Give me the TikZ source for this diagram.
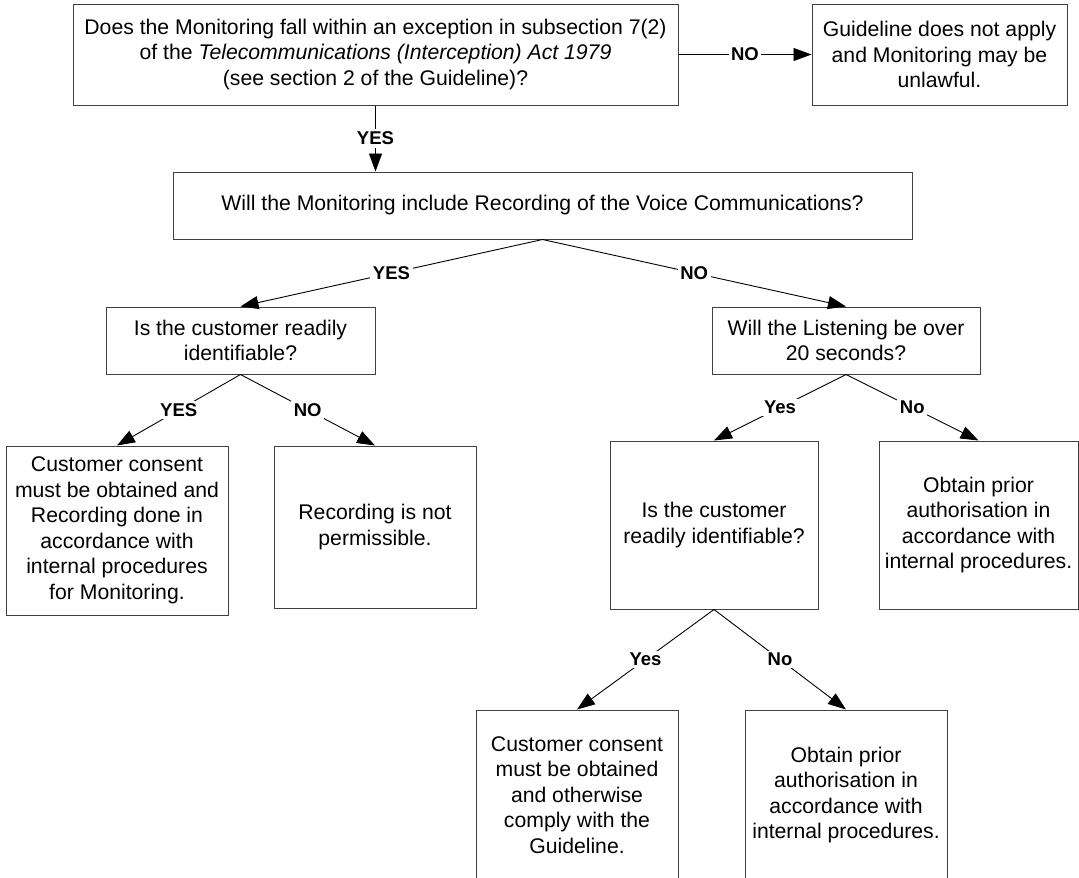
\documentclass[tikz,border=0pt]{standalone}
\usepackage{fontspec}
\setmainfont{Liberation Sans}
\usetikzlibrary{arrows.meta}
\begin{document}
\begin{tikzpicture}[x=1pt,y=-1pt,
  box/.style={draw=black!75, line width=1pt, align=center, inner sep=0pt,
    font=\fontsize{21.2}{25.5}\selectfont},
  conn/.style={draw=black, line width=0.9pt, -{Triangle[length=18pt,width=13pt]}},
  lbl/.style={fill=white, inner sep=2.5pt, font=\fontsize{18.5}{20}\selectfont\bfseries}]
\useasboundingbox (0,0) rectangle (1079,878);
\clip (0,0) rectangle (1079,878);

\node[box, minimum width=605pt, minimum height=101pt] (q1) at (375.5,54.5)
  {Does the Monitoring fall within an exception in subsection 7(2)\\
   of the \textit{Telecommunications (Interception) Act 1979}\\
   (see section 2 of the Guideline)?};
\node[box, minimum width=255pt, minimum height=101pt] (g) at (939.5,54.5)
  {Guideline does not apply\\ and Monitoring may be\\ unlawful.};
\node[box, minimum width=739pt, minimum height=67pt] (q2) at (542.5,205.5)
  {Will the Monitoring include Recording of the Voice Communications?};
\node[box, minimum width=269pt, minimum height=67pt] (q3) at (240.5,340.5)
  {Is the customer readily\\ identifiable?};
\node[box, minimum width=268pt, minimum height=67pt] (q4) at (846,340.5)
  {Will the Listening be over\\ 20 seconds?};
\node[box, minimum width=222pt, minimum height=169pt] (r1) at (117,530.5)
  {Customer consent\\ must be obtained and\\ Recording done in\\ accordance with\\ internal procedures\\ for Monitoring.};
\node[box, minimum width=202pt, minimum height=162pt] (r2) at (375,527)
  {Recording is not\\ permissible.};
\node[box, minimum width=208pt, minimum height=168pt] (q5) at (714,525)
  {Is the customer\\ readily identifiable?};
\node[box, minimum width=199pt, minimum height=168pt] (r3) at (978.5,525)
  {Obtain prior\\ authorisation in\\ accordance with\\ internal procedures.};
\node[box, minimum width=202pt, minimum height=170pt] (r4) at (577,795)
  {Customer consent\\ must be obtained\\ and otherwise\\ comply with the\\ Guideline.};
\node[box, minimum width=202pt, minimum height=170pt] (r5) at (846,795)
  {Obtain prior\\ authorisation in\\ accordance with\\ internal procedures.};

\draw[conn] (q1.east) -- node[lbl] {NO} (g.west);
\draw[conn] (q1.south) -- node[lbl] {YES} (q1.south |- q2.north);
\draw[conn] (q2.south) -- node[lbl] {YES} (q3.north);
\draw[conn] (q2.south) -- node[lbl] {NO} (q4.north);
\draw[conn] (q3.south) -- node[lbl] {YES} (r1.north);
\draw[conn] (q3.south) -- node[lbl] {NO} (r2.north);
\draw[conn] (q4.south) -- node[lbl] {Yes} (q5.north);
\draw[conn] (q4.south) -- node[lbl] {No} (r3.north);
\draw[conn] (q5.south) -- node[lbl] {Yes} (r4.north);
\draw[conn] (q5.south) -- node[lbl] {No} (r5.north);
\end{tikzpicture}
\end{document}
